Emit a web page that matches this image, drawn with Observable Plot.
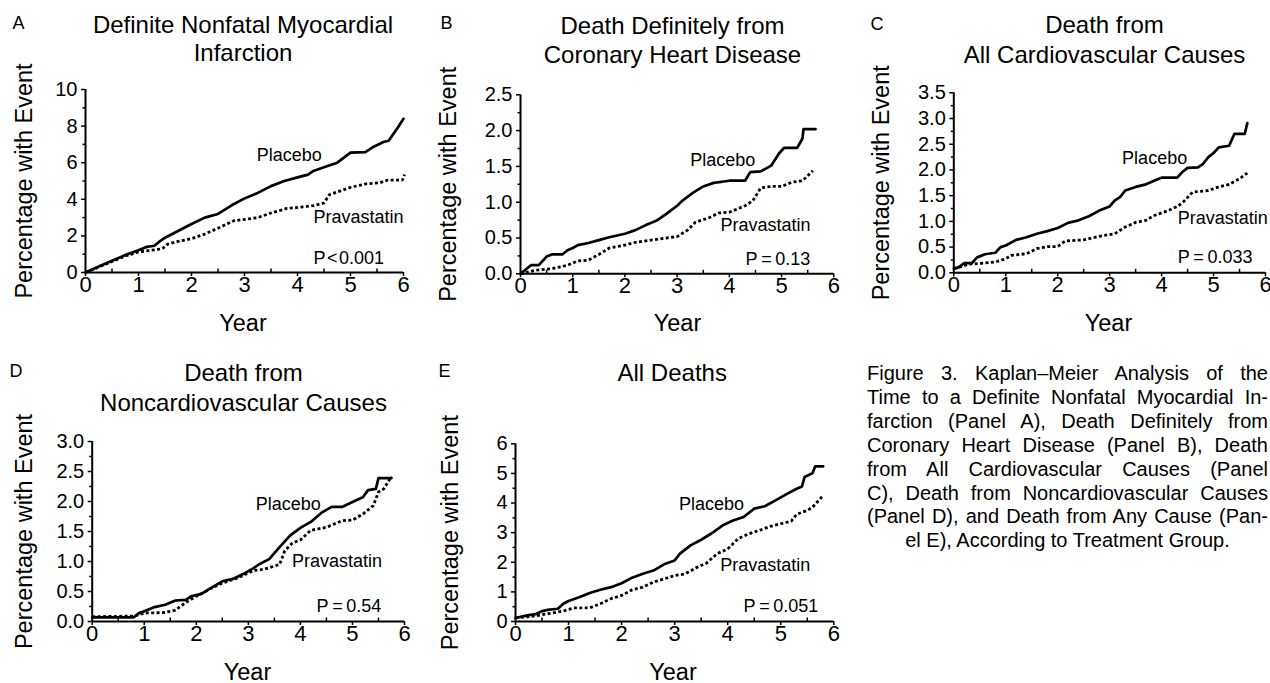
<!DOCTYPE html>
<html>
<head>
<meta charset="utf-8">
<script src="https://cdn.jsdelivr.net/npm/d3@7"></script>
<script src="https://cdn.jsdelivr.net/npm/@observablehq/plot@0.6"></script>
<style>
  body { margin: 0; background: #fff; }
  #root { position: relative; width: 1270px; height: 683px; overflow: hidden; background: #fff;
          font-family: "Liberation Sans", Arial, Helvetica, sans-serif; color: #000; }
  .panel { position: absolute; }
  #caption { position: absolute; left: 867px; top: 362px; width: 401px; font-size: 20px; line-height: 23.9px; }
  #caption div { text-align: justify; text-align-last: justify; white-space: nowrap; }
  #caption div.last { text-align: center; text-align-last: center; }
</style>
</head>
<body>
<div id="root"><div id="caption"></div></div>
<script>
// ---------------- data ----------------
const panelLetters = ["A", "B", "C", "D", "E"];
const panelTitles = [
  ["Definite Nonfatal Myocardial", "Infarction"],
  ["Death Definitely from", "Coronary Heart Disease"],
  ["Death from", "All Cardiovascular Causes"],
  ["Death from", "Noncardiovascular Causes"],
  ["All Deaths"]
];
const pValues = ["P\u200a<\u200a0.001", "P\u2009=\u20090.13", "P\u2009=\u20090.033", "P\u2009=\u20090.54", "P\u2009=\u20090.051"];
const seriesNames = ["Placebo", "Pravastatin"];
const yLabel = "Percentage with Event";
const xLabel = "Year";
const yMax = [10, 2.5, 3.5, 3.0, 6];
const yMajorStep = [2, 0.5, 0.5, 0.5, 1];
const yMinorStep = [1, 0.25, 0.25, 0.25, 0.5];
const yDecimals = [0, 1, 1, 1, 0];
const xTicks = [0, 1, 2, 3, 4, 5, 6];
const xMinorTicks = [0.5, 1.5, 2.5, 3.5, 4.5, 5.5];

// [year, percentage with event]
const placeboA = [[0,0],[0.25,0.33],[0.5,0.64],[0.75,0.95],[1,1.22],[1.15,1.4],[1.3,1.46],[1.4,1.7],[1.5,1.9],[1.7,2.2],[2,2.65],[2.25,3.0],[2.5,3.2],[2.75,3.66],[3,4.05],[3.25,4.35],[3.5,4.72],[3.75,5.0],[4,5.2],[4.2,5.35],[4.3,5.55],[4.5,5.75],[4.75,6.0],[5,6.55],[5.28,6.58],[5.43,6.86],[5.62,7.13],[5.72,7.2],[5.9,7.95],[6.0,8.4]];
const pravaA = [[0,0],[0.25,0.3],[0.5,0.6],[0.75,0.9],[1,1.12],[1.25,1.22],[1.45,1.3],[1.55,1.55],[1.75,1.7],[2,1.85],[2.25,2.1],[2.5,2.42],[2.8,2.83],[3.0,2.9],[3.25,3.0],[3.5,3.25],[3.8,3.5],[4.0,3.55],[4.3,3.65],[4.5,3.8],[4.6,4.25],[4.8,4.45],[5.0,4.65],[5.3,4.85],[5.55,4.9],[5.7,5.05],[5.98,5.05],[6.02,5.35]];
const placeboB = [[0,0],[0.1,0.06],[0.2,0.12],[0.35,0.12],[0.5,0.24],[0.6,0.27],[0.8,0.27],[0.9,0.33],[1.0,0.36],[1.1,0.4],[1.3,0.43],[1.5,0.47],[1.7,0.51],[2.0,0.56],[2.2,0.61],[2.4,0.68],[2.6,0.74],[2.8,0.84],[3.0,0.95],[3.1,1.02],[3.3,1.13],[3.5,1.22],[3.7,1.27],[4.0,1.3],[4.3,1.3],[4.4,1.42],[4.6,1.43],[4.8,1.51],[4.95,1.68],[5.05,1.76],[5.3,1.76],[5.4,1.89],[5.42,2.02],[5.65,2.02]];
const pravaB = [[0,0],[0.3,0.05],[0.6,0.07],[0.9,0.12],[1.1,0.18],[1.3,0.19],[1.5,0.27],[1.7,0.36],[2.0,0.4],[2.2,0.44],[2.5,0.47],[2.8,0.5],[3.0,0.52],[3.2,0.61],[3.35,0.72],[3.6,0.78],[3.8,0.85],[4.0,0.86],[4.3,0.95],[4.45,1.02],[4.6,1.2],[4.8,1.22],[5.0,1.22],[5.2,1.28],[5.4,1.3],[5.6,1.44]];
const placeboC = [[0,0.08],[0.1,0.11],[0.2,0.19],[0.35,0.19],[0.45,0.3],[0.6,0.36],[0.8,0.39],[0.9,0.5],[1.0,0.53],[1.2,0.64],[1.4,0.69],[1.6,0.76],[1.8,0.81],[2.0,0.87],[2.2,0.97],[2.4,1.02],[2.6,1.1],[2.8,1.21],[3.0,1.29],[3.1,1.41],[3.2,1.47],[3.3,1.6],[3.5,1.67],[3.7,1.72],[3.9,1.81],[4.0,1.85],[4.3,1.85],[4.4,1.96],[4.5,2.04],[4.7,2.05],[4.8,2.12],[4.9,2.25],[5.0,2.33],[5.1,2.44],[5.3,2.47],[5.4,2.7],[5.6,2.7],[5.65,2.91]];
const pravaC = [[0,0.08],[0.3,0.17],[0.5,0.18],[0.8,0.21],[1.0,0.27],[1.1,0.34],[1.4,0.37],[1.6,0.47],[1.8,0.51],[2.0,0.51],[2.15,0.62],[2.5,0.64],[2.8,0.71],[3.1,0.76],[3.3,0.89],[3.5,0.98],[3.7,1.02],[3.85,1.11],[4.1,1.2],[4.3,1.29],[4.4,1.36],[4.6,1.57],[4.9,1.6],[5.1,1.67],[5.3,1.72],[5.5,1.83],[5.65,1.94]];
const placeboD = [[0,0.07],[0.8,0.07],[0.9,0.14],[1.0,0.17],[1.2,0.24],[1.4,0.28],[1.6,0.35],[1.8,0.36],[1.9,0.42],[2.1,0.46],[2.3,0.57],[2.5,0.67],[2.7,0.71],[2.9,0.79],[3.1,0.89],[3.2,0.95],[3.4,1.04],[3.5,1.14],[3.6,1.24],[3.8,1.43],[4.0,1.56],[4.2,1.66],[4.4,1.81],[4.6,1.91],[4.8,1.91],[5.0,1.99],[5.2,2.07],[5.3,2.19],[5.45,2.21],[5.5,2.39],[5.75,2.39]];
const pravaD = [[0,0.08],[0.8,0.09],[1.0,0.14],[1.4,0.15],[1.6,0.19],[1.8,0.32],[2.0,0.42],[2.3,0.56],[2.5,0.64],[2.8,0.73],[3.1,0.85],[3.3,0.87],[3.6,0.95],[3.7,1.18],[3.85,1.31],[4.0,1.36],[4.2,1.52],[4.5,1.57],[4.8,1.68],[5.0,1.69],[5.2,1.79],[5.4,1.93],[5.5,2.16],[5.6,2.21],[5.75,2.42]];
const placeboE = [[0,0.12],[0.2,0.2],[0.4,0.26],[0.5,0.35],[0.6,0.39],[0.8,0.43],[0.9,0.6],[1.0,0.69],[1.2,0.82],[1.4,0.96],[1.6,1.07],[1.8,1.16],[2.0,1.29],[2.2,1.48],[2.4,1.61],[2.6,1.72],[2.8,1.93],[3.0,2.06],[3.1,2.29],[3.3,2.57],[3.5,2.76],[3.7,2.98],[3.9,3.24],[4.1,3.41],[4.3,3.53],[4.5,3.81],[4.7,3.89],[4.9,4.09],[5.1,4.29],[5.3,4.48],[5.4,4.56],[5.45,4.88],[5.6,5.01],[5.65,5.24],[5.8,5.24]];
const pravaE = [[0,0.12],[0.3,0.17],[0.6,0.26],[0.9,0.35],[1.1,0.46],[1.4,0.46],[1.6,0.6],[1.8,0.77],[2.0,0.88],[2.2,1.07],[2.4,1.16],[2.6,1.33],[2.8,1.44],[3.0,1.55],[3.2,1.61],[3.4,1.81],[3.6,1.97],[3.8,2.29],[4.0,2.45],[4.2,2.8],[4.4,2.96],[4.6,3.08],[4.8,3.21],[5.0,3.3],[5.2,3.39],[5.3,3.62],[5.5,3.75],[5.6,3.86],[5.8,4.26]];
const placeboSeries = [placeboA, placeboB, placeboC, placeboD, placeboE];
const pravaSeries = [pravaA, pravaB, pravaC, pravaD, pravaE];

const captionLines = [
  "Figure 3. Kaplan\u2013Meier Analysis of the",
  "Time to a Definite Nonfatal Myocardial In-",
  "farction (Panel A), Death Definitely from",
  "Coronary Heart Disease (Panel B), Death",
  "from All Cardiovascular Causes (Panel",
  "C), Death from Noncardiovascular Causes",
  "(Panel D), and Death from Any Cause (Pan-",
  "el E), According to Treatment Group."
];

// ---------------- layout (pixels, not data) ----------------
const layout = [
  {left: 0,   top: 0,   w: 420, h: 340, m: {l: 85,    r: 17,  t: 89,    b: 68},   titleY: [32, 60],     titleX: 242.5, letter: [12, 28.3], ylabX: 24, yearY: 330, yearX: 242.5,
   placeboAt: [3.23, 6.07], pravaAt: [4.30, 2.69], pAt: [4.30, 0.49]},
  {left: 420, top: 0,   w: 420, h: 340, m: {l: 100,   r: 6.7, t: 94.3,  b: 66.7}, titleY: [33, 62.7],   titleX: 252,   letter: [20, 28.3], ylabX: 28, yearY: 330, yearX: 257,
   placeboAt: [3.25, 1.51], pravaAt: [3.83, 0.60], pAt: [4.31, 0.12]},
  {left: 840, top: 0,   w: 430, h: 340, m: {l: 113.3, r: 5,   t: 92.3,  b: 67.7}, titleY: [32.7, 62.7], titleX: 264,   letter: [30, 29],   ylabX: 41, yearY: 330, yearX: 268,
   placeboAt: [3.24, 2.12], pravaAt: [4.31, 0.94], pAt: [4.31, 0.19]},
  {left: 0,   top: 340, w: 420, h: 343, m: {l: 91.7,  r: 16,  t: 101,   b: 62},   titleY: [40.7, 70],   titleX: 243,   letter: [9, 36],    ylabX: 24, yearY: 339, yearX: 247,
   placeboAt: [3.14, 1.86], pravaAt: [3.84, 0.91], pAt: [4.31, 0.16]},
  {left: 420, top: 340, w: 420, h: 343, m: {l: 95,    r: 6.7, t: 103.3, b: 62},   titleY: [40.7],       titleX: 251.7, letter: [18, 36.7], ylabX: 30, yearY: 339, yearX: 252.5,
   placeboAt: [3.08, 3.75], pravaAt: [3.86, 1.70], pAt: [4.30, 0.32]}
];

const FONT = '"Liberation Sans", Arial, Helvetica, sans-serif';
const root = document.getElementById("root");

function at(L, X, Y, str, opts) {
  return Plot.text([str], {frameAnchor: "top-left", dx: X - L.m.l, dy: Y - L.m.t, text: d => d, fill: "#000", ...opts});
}

panelLetters.forEach((letter, i) => {
  const L = layout[i];
  const ymax = yMax[i];
  const majors = d3.range(0, ymax + 1e-9, yMajorStep[i]);
  const minors = d3.range(yMinorStep[i], ymax, yMinorStep[i]).filter(v => Math.abs(v / yMajorStep[i] - Math.round(v / yMajorStep[i])) > 1e-6);
  const dec = yDecimals[i];

  const marks = [
    Plot.axisY(majors, {tickSize: 4, tickPadding: 4, tickFormat: d => d.toFixed(dec), fontSize: 20, label: null, strokeWidth: 1.5}),
    Plot.axisY(minors, {tickSize: 2.5, fill: "none", label: null, strokeWidth: 1.5}),
    Plot.axisX(xTicks, {tickSize: 4, tickPadding: 0, fontSize: 22, label: null, strokeWidth: 1.5}),
    Plot.axisX(xMinorTicks, {tickSize: -3.5, fill: "none", label: null, strokeWidth: 1.5}),
    Plot.ruleX([0], {y1: 0, y2: ymax, stroke: "#000", strokeWidth: 2}),
    Plot.ruleY([0], {x1: 0, x2: 6, stroke: "#000", strokeWidth: 2}),
    Plot.line(pravaSeries[i], {x: d => d[0], y: d => d[1], stroke: "#000", strokeWidth: 2.8, strokeDasharray: "3,2.4", strokeLinecap: "butt", strokeLinejoin: "miter"}),
    Plot.line(placeboSeries[i], {x: d => d[0], y: d => d[1], stroke: "#000", strokeWidth: 2.7}),
    Plot.text([seriesNames[0]], {x: () => L.placeboAt[0], y: () => L.placeboAt[1], text: d => d, textAnchor: "start", lineAnchor: "bottom", fontSize: 18, fill: "#000"}),
    Plot.text([seriesNames[1]], {x: () => L.pravaAt[0], y: () => L.pravaAt[1], text: d => d, textAnchor: "start", lineAnchor: "bottom", fontSize: 18, fill: "#000"}),
    Plot.text([pValues[i]], {x: () => L.pAt[0], y: () => L.pAt[1], text: d => d, textAnchor: "start", lineAnchor: "bottom", fontSize: 18, fill: "#000"}),
    at(L, L.letter[0], L.letter[1], letter, {textAnchor: "start", lineAnchor: "bottom", fontSize: 18}),
    ...panelTitles[i].map((t, k) => at(L, L.titleX, L.titleY[k], t, {textAnchor: "middle", lineAnchor: "bottom", fontSize: 24})),
    at(L, L.ylabX, (L.m.t + (L.h - L.m.b)) / 2, yLabel, {textAnchor: "middle", lineAnchor: "middle", rotate: -90, fontSize: 23.5}),
    at(L, L.yearX, L.yearY, xLabel, {textAnchor: "middle", lineAnchor: "bottom", fontSize: 23.5})
  ];

  const svg = Plot.plot({
    width: L.w, height: L.h,
    marginLeft: L.m.l, marginRight: L.m.r, marginTop: L.m.t, marginBottom: L.m.b,
    x: {domain: [0, 6], label: null},
    y: {domain: [0, ymax], label: null},
    style: {fontFamily: FONT, fontSize: "19px", background: "transparent", overflow: "visible", color: "#000"},
    marks
  });
  svg.classList.add("panel");
  svg.style.left = L.left + "px";
  svg.style.top = L.top + "px";
  root.appendChild(svg);
});

const cap = document.getElementById("caption");
captionLines.forEach((line, k) => {
  const div = document.createElement("div");
  div.textContent = line;
  if (k === captionLines.length - 1) div.className = "last";
  cap.appendChild(div);
});
</script>
</body>
</html>
